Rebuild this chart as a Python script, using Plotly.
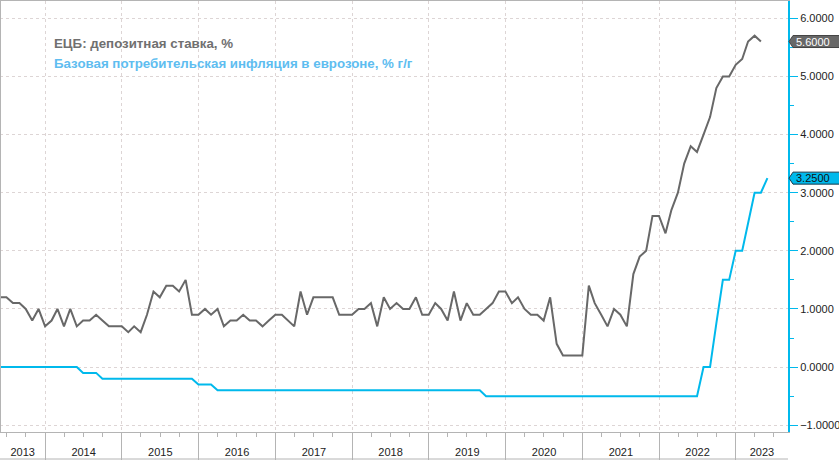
import pandas as pd
import plotly.graph_objects as go

# ---------------- data ----------------
months = pd.date_range("2013-05-31", "2023-05-31", freq="ME")  # month-end dates

# grey series (label: "ЕЦБ: депозитная ставка, %") May 2013 .. Apr 2023
grey_values = [
    1.2, 1.2, 1.1, 1.1, 1.0, 0.8, 1.0, 0.7, 0.8, 1.0,
    0.7, 1.0, 0.7, 0.8, 0.8, 0.9, 0.8, 0.7, 0.7, 0.7,
    0.6, 0.7, 0.6, 0.9, 1.3, 1.2, 1.4, 1.4, 1.3, 1.5,
    0.9, 0.9, 1.0, 0.9, 1.0, 0.7, 0.8, 0.8, 0.9, 0.8,
    0.8, 0.7, 0.8, 0.9, 0.9, 0.8, 0.7, 1.3, 0.9, 1.2,
    1.2, 1.2, 1.2, 0.9, 0.9, 0.9, 1.0, 1.0, 1.1, 0.7,
    1.2, 1.0, 1.1, 1.0, 1.0, 1.2, 0.9, 0.9, 1.1, 1.0,
    0.8, 1.3, 0.8, 1.1, 0.9, 0.9, 1.0, 1.1, 1.3, 1.3,
    1.1, 1.2, 1.0, 0.9, 0.9, 0.8, 1.2, 0.4, 0.2, 0.2,
    0.2, 0.2, 1.4, 1.1, 0.9, 0.7, 1.0, 0.9, 0.7, 1.6,
    1.9, 2.0, 2.6, 2.6, 2.3, 2.7, 3.0, 3.5, 3.8, 3.7,
    4.0, 4.3, 4.8, 5.0, 5.0, 5.2, 5.3, 5.6, 5.7, 5.6,
]

# blue series (label: "Базовая потребительская инфляция ...") May 2013 .. May 2023
blue_values = [
    0.0, 0.0, 0.0, 0.0, 0.0, 0.0, 0.0, 0.0, 0.0, 0.0,
    0.0, 0.0, 0.0, -0.1, -0.1, -0.1, -0.2, -0.2, -0.2, -0.2,
    -0.2, -0.2, -0.2, -0.2, -0.2, -0.2, -0.2, -0.2, -0.2, -0.2,
    -0.2, -0.3, -0.3, -0.3, -0.4, -0.4, -0.4, -0.4, -0.4, -0.4,
    -0.4, -0.4, -0.4, -0.4, -0.4, -0.4, -0.4, -0.4, -0.4, -0.4,
    -0.4, -0.4, -0.4, -0.4, -0.4, -0.4, -0.4, -0.4, -0.4, -0.4,
    -0.4, -0.4, -0.4, -0.4, -0.4, -0.4, -0.4, -0.4, -0.4, -0.4,
    -0.4, -0.4, -0.4, -0.4, -0.4, -0.4, -0.5, -0.5, -0.5, -0.5,
    -0.5, -0.5, -0.5, -0.5, -0.5, -0.5, -0.5, -0.5, -0.5, -0.5,
    -0.5, -0.5, -0.5, -0.5, -0.5, -0.5, -0.5, -0.5, -0.5, -0.5,
    -0.5, -0.5, -0.5, -0.5, -0.5, -0.5, -0.5, -0.5, -0.5, -0.5,
    0.0, 0.0, 0.75, 1.5, 1.5, 2.0, 2.0, 2.5, 3.0, 3.0,
    3.25,
]

year_labels = ["2013", "2014", "2015", "2016", "2017", "2018",
               "2019", "2020", "2021", "2022", "2023"]
y_ticks = [-1, 0, 1, 2, 3, 4, 5, 6]

legend_texts = ["ЕЦБ: депозитная ставка, %",
                "Базовая потребительская инфляция в еврозоне, % г/г"]

# ---------------- styling ----------------
GREY = "#686868"
CYAN = "#00b9ec"
GRID = "#ddd5d5"
FRAME = "#b4b4b4"
TICKFONT = "Liberation Sans, Arial, Helvetica, sans-serif"
BOLD = "Liberation Sans, Arial, Helvetica, sans-serif"

X_START = pd.Timestamp("2013-05-30 12:00")
X_END = pd.Timestamp("2023-09-06")
Y_RANGE = [-1.117, 6.297]

W, H = 839, 460
ML, MR, MT, MB = 0, 51, 1, 28
PW = W - ML - MR
PH = H - MT - MB

# year label positions: middle of the visible part of each year
label_pos = []
for lab in year_labels:
    s = max(pd.Timestamp(f"{lab}-01-01"), X_START)
    e = min(pd.Timestamp(f"{int(lab) + 1}-01-01"), X_END)
    label_pos.append(s + (e - s) / 2)

fig = go.Figure()

fig.add_trace(go.Scatter(
    x=months[:len(grey_values)], y=grey_values, mode="lines",
    line=dict(color=GREY, width=2), xaxis="x", yaxis="y", hoverinfo="skip"))
fig.add_trace(go.Scatter(
    x=months[:len(blue_values)], y=blue_values, mode="lines",
    line=dict(color=CYAN, width=2), xaxis="x", yaxis="y", hoverinfo="skip"))

# arrow-head tick markers on the right axis
fig.add_trace(go.Scatter(
    x=[1 + 4.5 / PW] * len(y_ticks), y=y_ticks, mode="markers",
    marker=dict(symbol="triangle-right", size=7, color=CYAN),
    xaxis="x2", yaxis="y", cliponaxis=False, hoverinfo="skip"))

# empty trace to carry the year-label axis
fig.add_trace(go.Scatter(x=[], y=[], xaxis="x3", yaxis="y", hoverinfo="skip"))

fig.update_layout(
    width=W, height=H,
    margin=dict(l=ML, r=MR, t=MT, b=MB, autoexpand=False),
    paper_bgcolor="white", plot_bgcolor="white",
    showlegend=False,
    xaxis=dict(
        type="date", range=[X_START, X_END],
        tickmode="linear", tick0="2014-01-01", dtick="M12",
        ticks="outside", ticklen=27, tickcolor=FRAME, tickwidth=1,
        showticklabels=False,
        showgrid=True, gridcolor=GRID, griddash="dot", gridwidth=1,
        showline=True, linecolor=FRAME, linewidth=1, mirror=True,
        zeroline=False,
        minor=dict(tickmode="linear", tick0="2014-01-01", dtick="M3",
                   ticks="outside", ticklen=4, tickcolor=FRAME, showgrid=False),
    ),
    xaxis2=dict(overlaying="x", range=[0, 1], visible=False, anchor="y"),
    xaxis3=dict(
        overlaying="x", anchor="y", type="date", range=[X_START, X_END],
        tickmode="array", tickvals=label_pos, ticktext=year_labels,
        ticks="outside", ticklen=10, tickcolor="rgba(0,0,0,0)",
        showgrid=False, showline=False, zeroline=False,
        tickfont=dict(family=TICKFONT, size=11, color="#222222"),
    ),
    yaxis=dict(
        side="right", range=Y_RANGE,
        tickmode="array", tickvals=y_ticks, tickformat=".4f",
        ticks="outside", ticklen=8, tickcolor=CYAN, tickwidth=1,
        tickfont=dict(family=TICKFONT, size=11, color="#222222"),
        showline=True, linecolor=CYAN, linewidth=2,
        showgrid=True, gridcolor=GRID, griddash="dot", gridwidth=1,
        zeroline=False,
        minor=dict(tickmode="linear", tick0=0, dtick=0.5, ticks="outside",
                   ticklen=4, tickcolor=CYAN, showgrid=False),
    ),
)

# frame: left border and bottom line under the labels
fig.add_shape(type="line", xref="paper", yref="paper", x0=0, x1=0, y0=0, y1=1,
              line=dict(color=FRAME, width=2))
fig.add_shape(type="line", xref="paper", yref="paper", x0=0, x1=1,
              y0=-(MB - 1) / PH, y1=-(MB - 1) / PH, line=dict(color=FRAME, width=1))

# last-value tags on the right axis
def add_tag(value, fill, text_color, outline):
    h = 6 / (PH / (Y_RANGE[1] - Y_RANGE[0]))
    xt = 1 + 1 / PW
    x1 = 1 + 5 / PW
    x2 = 1 + (MR + 5) / PW
    fig.add_shape(type="path", xref="paper", yref="y",
                  path=f"M {xt},{value} L {x1},{value + h} L {x2},{value + h} "
                       f"L {x2},{value - h} L {x1},{value - h} Z",
                  fillcolor=fill, line=dict(color=outline, width=1), layer="above")
    fig.add_annotation(x=1 + 6 / PW, xref="paper", y=value, yref="y",
                       xanchor="left", yanchor="middle", showarrow=False,
                       text=f"{value:.4f}",
                       font=dict(family=TICKFONT, size=11, color=text_color))

add_tag(grey_values[-1], GREY, "white", "#444444")
add_tag(blue_values[-1], CYAN, "#111111", "#1a3a4a")

# legend texts
legend_colors = ["#707070", "#5ebdf0"]
legend_y = [(H - MB - 44) / PH, (H - MB - 63.5) / PH]
for txt, col, yy in zip(legend_texts, legend_colors, legend_y):
    fig.add_annotation(x=52 / PW, xref="paper", y=yy, yref="paper",
                       xanchor="left", yanchor="middle", showarrow=False,
                       text=f"<b>{txt}</b>",
                       font=dict(family=BOLD, size=13.3, color=col))

fig.write_html("out.html", config={"displayModeBar": False},
               post_script="document.body.style.margin='0';")
